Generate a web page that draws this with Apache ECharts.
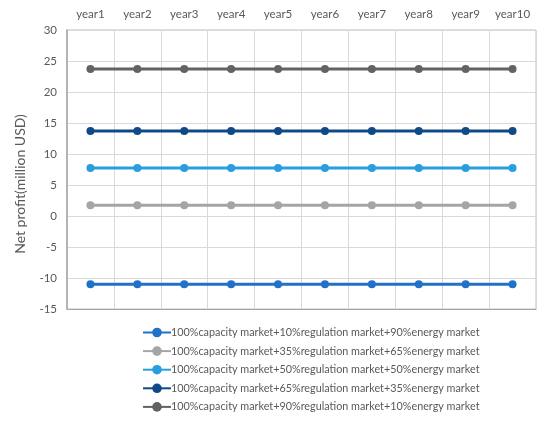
<!DOCTYPE html>
<html><head><meta charset="utf-8">
<script src="https://cdn.jsdelivr.net/npm/echarts@6/dist/echarts.min.js"></script>
<style>html,body{margin:0;padding:0;background:#fff}#c{width:550px;height:426px}</style>
</head><body><div id="c"></div>
<script>
var categories = ['year1','year2','year3','year4','year5','year6','year7','year8','year9','year10'];
var seriesNames = [
  '100%capacity market+10%regulation market+90%energy market',
  '100%capacity market+35%regulation market+65%energy market',
  '100%capacity market+50%regulation market+50%energy market',
  '100%capacity market+65%regulation market+35%energy market',
  '100%capacity market+90%regulation market+10%energy market'
];
var s10 = [-11,-11,-11,-11,-11,-11,-11,-11,-11,-11];
var s35 = [1.75,1.75,1.75,1.75,1.75,1.75,1.75,1.75,1.75,1.75];
var s50 = [7.75,7.75,7.75,7.75,7.75,7.75,7.75,7.75,7.75,7.75];
var s65 = [13.7,13.7,13.7,13.7,13.7,13.7,13.7,13.7,13.7,13.7];
var s90 = [23.7,23.7,23.7,23.7,23.7,23.7,23.7,23.7,23.7,23.7];
var colors = ['#2072C8','#A5A5A5','#2A9DDE','#104A86','#636363'];
var data = [s10,s35,s50,s65,s90];

var chart = echarts.init(document.getElementById('c'));
var font = 'Lato, Open Sans, sans-serif';
chart.setOption({
  animation:false,
  color: colors,
  grid:{left:67,right:14,top:30,bottom:117,show:true,borderColor:'#bfbfbf',borderWidth:1},
  legend:{
    orient:'vertical', left:137, top:322, itemGap:7.6, itemWidth:28, itemHeight:12,
    textStyle:{fontFamily:font,fontSize:10.8,color:'#595959',padding:[0,0,0,-5]},
    data: seriesNames
  },
  graphic:[{
    type:'text', x:20, y:184, rotation:Math.PI/2,
    style:{text:'Net profit(million USD)', fontFamily:font, fontSize:14, fill:'#595959',
      textAlign:'center', textVerticalAlign:'middle'}
  }],
  xAxis:[{
    type:'category', data:categories, position:'top', boundaryGap:true,
    axisLine:{show:false}, axisTick:{show:false},
    axisLabel:{fontFamily:font,fontSize:11.5,color:'#595959',margin:10},
    splitLine:{show:true,lineStyle:{color:'#d9d9d9',width:1}}
  },{
    type:'category', data:categories, position:'bottom', boundaryGap:true,
    axisLine:{show:true,onZero:true,lineStyle:{color:'#a6a6a6',width:1}},
    axisTick:{show:false}, axisLabel:{show:false}, splitLine:{show:false}
  }],
  yAxis:{
    type:'value', min:-15, max:30, interval:5,
    axisLine:{show:true,lineStyle:{color:'#a6a6a6',width:1.5}},
    axisTick:{show:false},
    axisLabel:{fontFamily:font,fontSize:11.5,color:'#595959',margin:10},
    splitLine:{lineStyle:{color:'#d9d9d9',width:1}}
  },
  series: seriesNames.map(function(n,i){
    return {name:n,type:'line',data:data[i],symbol:'circle',symbolSize:8,
      lineStyle:{width:3,color:colors[i]},itemStyle:{color:colors[i]}};
  })
});
</script></body></html>
